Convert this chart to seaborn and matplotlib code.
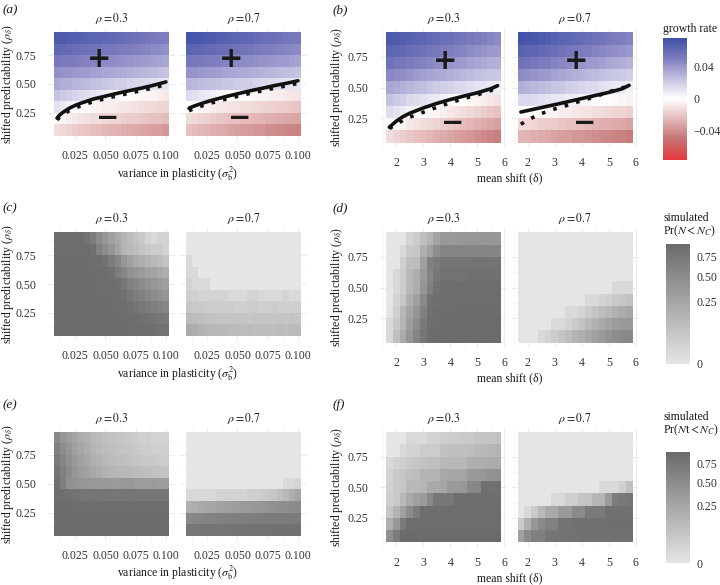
import matplotlib as mpl
import matplotlib.pyplot as plt
import numpy as np
import seaborn as sns
from matplotlib.ticker import MultipleLocator

sns.set_style("white")
plt.rcParams["font.family"] = ["Liberation Serif", "DejaVu Serif"]
plt.rcParams["mathtext.fontset"] = "stix"
plt.rcParams["text.color"] = "#1a1a1a"

# ---- grid coordinates -------------------------------------------------------
sigma_b2 = [0.010, 0.015, 0.020, 0.025, 0.030, 0.035, 0.040, 0.045, 0.050, 0.055,
            0.060, 0.065, 0.070, 0.075, 0.080, 0.085, 0.090, 0.095, 0.100]
mean_shift = [1.75, 2.00, 2.25, 2.50, 2.75, 3.00, 3.25, 3.50, 3.75, 4.00, 4.25,
              4.50, 4.75, 5.00, 5.25, 5.50, 5.75]
rho_delta = [0.9, 0.8, 0.7, 0.6, 0.5, 0.4, 0.3, 0.2, 0.1]  # grid rows, top to bottom
rho_facets = ["0.3", "0.7"]

sigma_ticks = [0.025, 0.050, 0.075, 0.100]
sigma_tick_labels = ["0.025", "0.050", "0.075", "0.100"]
shift_ticks = [2, 3, 4, 5, 6]
shift_tick_labels = ["2", "3", "4", "5", "6"]
rho_ticks = [0.25, 0.50, 0.75]
rho_tick_labels = ["0.25", "0.50", "0.75"]

# ---- (a), (b): growth rate, in units of 1e-3 --------------------------------
growth_sigma_rho03 = [
    [70, 69, 68, 67, 66, 65, 64, 63, 62, 61, 60, 59, 57, 56, 55, 54, 52, 51, 50],
    [62, 61, 60, 59, 58, 57, 56, 55, 54, 53, 52, 51, 50, 49, 48, 47, 45, 44, 43],
    [53, 52, 51, 50, 49, 48, 47, 46, 45, 44, 43, 42, 41, 40, 39, 38, 37, 36, 35],
    [43, 42, 41, 40, 39, 38, 37, 36, 35, 34, 33, 32, 31, 30, 29, 28, 27, 25, 24],
    [34, 32, 31, 29, 28, 27, 25, 24, 23, 21, 20, 19, 17, 16, 15, 14, 12, 11, 10],
    [24, 21, 19, 17, 15, 13, 11, 9, 7, 5, 3, 1, -1, -2, -3, -4, -5, -7, -8],
    [12, 8, 5, 2, 0, -2, -4, -5, -6, -7, -8, -9, -10, -11, -12, -13, -14, -15, -16],
    [-1, -4, -6, -8, -10, -11, -12, -13, -14, -15, -16, -17, -18, -19, -20, -21, -22, -23, -24],
    [-12, -14, -16, -18, -20, -21, -23, -24, -25, -26, -27, -29, -30, -31, -32, -33, -34, -35, -37],
]
growth_sigma_rho07 = [
    [73, 72, 71, 70, 69, 67, 66, 65, 64, 63, 62, 60, 59, 58, 57, 56, 54, 53, 52],
    [64, 63, 62, 61, 60, 59, 58, 57, 56, 55, 54, 52, 51, 50, 49, 48, 47, 46, 45],
    [54, 53, 52, 51, 50, 49, 48, 47, 46, 45, 44, 43, 42, 41, 40, 39, 38, 37, 36],
    [42, 41, 40, 39, 38, 37, 36, 35, 34, 33, 32, 31, 30, 29, 28, 27, 26, 25, 24],
    [29, 28, 27, 26, 25, 24, 23, 22, 21, 20, 19, 17, 16, 15, 14, 13, 12, 11, 10],
    [14, 12, 10, 8, 6, 4, 2, 1, 0, -1, -2, -3, -4, -5, -6, -7, -8, -9, -10],
    [1, -1, -3, -5, -6, -8, -9, -10, -11, -12, -13, -14, -15, -16, -17, -18, -19, -20, -21],
    [-12, -14, -16, -17, -19, -20, -21, -22, -23, -24, -25, -26, -27, -28, -29, -30, -31, -32, -33],
    [-22, -24, -26, -27, -29, -30, -31, -33, -34, -35, -36, -37, -38, -40, -41, -42, -43, -44, -45],
]
growth_shift_rho03 = [
    [70, 69, 67, 66, 64, 63, 61, 60, 58, 57, 55, 54, 52, 50, 49, 47, 45],
    [64, 62, 61, 59, 58, 56, 54, 53, 51, 50, 48, 47, 45, 43, 42, 40, 39],
    [56, 54, 53, 51, 49, 48, 46, 44, 43, 41, 40, 38, 36, 35, 33, 32, 31],
    [46, 44, 43, 41, 39, 37, 36, 34, 33, 31, 30, 28, 27, 25, 24, 23, 22],
    [35, 33, 31, 29, 27, 25, 23, 21, 19, 18, 16, 15, 13, 11, 10, 8, 7],
    [24, 21, 19, 16, 14, 12, 10, 8, 5, 3, 1, -1, -3, -5, -7, -9, -11],
    [14, 11, 8, 5, 2, 0, -2, -4, -6, -8, -10, -12, -14, -16, -18, -20, -22],
    [2, -2, -5, -8, -10, -12, -14, -16, -18, -20, -22, -24, -26, -28, -30, -32, -34],
    [-12, -15, -18, -20, -22, -24, -26, -28, -30, -32, -34, -36, -38, -40, -42, -44, -46],
]
growth_shift_rho07 = [
    [74, 72, 71, 69, 68, 66, 64, 63, 61, 60, 58, 56, 55, 53, 51, 50, 48],
    [66, 64, 63, 61, 59, 58, 56, 54, 53, 51, 50, 48, 46, 45, 43, 41, 40],
    [56, 55, 53, 51, 50, 48, 46, 45, 43, 41, 40, 38, 37, 35, 33, 32, 30],
    [45, 43, 41, 40, 38, 36, 35, 33, 31, 30, 28, 27, 25, 24, 22, 21, 19],
    [32, 30, 28, 27, 25, 23, 22, 20, 18, 17, 15, 14, 12, 11, 9, 8, 6],
    [16, 15, 14, 12, 11, 10, 9, 7, 6, 5, 3, 2, 1, -1, -2, -3, -5],
    [1, 0, -1, -2, -3, -4, -6, -7, -8, -9, -10, -12, -13, -14, -15, -16, -17],
    [-13, -14, -15, -17, -18, -19, -20, -22, -23, -24, -25, -27, -28, -29, -30, -31, -33],
    [-26, -27, -29, -30, -31, -33, -34, -35, -37, -38, -39, -40, -42, -43, -44, -45, -47],
]

# zero-growth contours: analytical (solid) and approximate (dotted)
contour_sigma_x = [0.01, 0.0125, 0.015, 0.02, 0.025, 0.03, 0.04, 0.05, 0.06, 0.07, 0.08, 0.09, 0.1]
exact_sigma_rho03 = [0.205, 0.235, 0.255, 0.29, 0.315, 0.335, 0.37, 0.395, 0.42, 0.443, 0.465, 0.49, 0.518]
approx_sigma_rho03 = [0.19, 0.215, 0.235, 0.268, 0.292, 0.312, 0.347, 0.373, 0.398, 0.421, 0.443, 0.467, 0.495]
exact_sigma_rho07 = [0.29, 0.302, 0.312, 0.33, 0.347, 0.362, 0.39, 0.415, 0.44, 0.462, 0.485, 0.505, 0.528]
approx_sigma_rho07 = [0.268, 0.28, 0.29, 0.308, 0.325, 0.34, 0.368, 0.393, 0.418, 0.44, 0.463, 0.483, 0.506]
contour_shift_x = [1.75, 2.0, 2.25, 2.5, 3.0, 3.5, 4.0, 4.5, 5.0, 5.5, 5.75]
exact_shift_rho03 = [0.176, 0.225, 0.262, 0.29, 0.333, 0.37, 0.402, 0.43, 0.457, 0.49, 0.515]
approx_shift_rho03 = [0.165, 0.2, 0.232, 0.258, 0.298, 0.338, 0.375, 0.41, 0.44, 0.475, 0.5]
exact_shift_rho07 = [0.30, 0.312, 0.324, 0.336, 0.36, 0.385, 0.41, 0.435, 0.46, 0.49, 0.518]
approx_shift_rho07 = [0.2, 0.235, 0.262, 0.287, 0.325, 0.357, 0.393, 0.425, 0.465, 0.497, 0.515]

# ---- (c), (d): simulated Pr(N < N_C), percent --------------------------------
pr_sigma_rho03 = [
    [89, 89, 89, 89, 89, 82, 68, 50, 39, 30, 22, 15, 10, 7, 5, 2, 1, 2, 2],
    [90, 90, 90, 90, 90, 89, 85, 62, 50, 39, 26, 15, 12, 10, 7, 5, 4, 4, 2],
    [91, 91, 91, 91, 91, 90, 90, 88, 82, 68, 56, 39, 30, 22, 18, 15, 12, 10, 7],
    [91, 91, 91, 91, 91, 91, 90, 90, 88, 85, 68, 56, 44, 39, 34, 30, 26, 22, 18],
    [92, 92, 92, 92, 92, 91, 91, 90, 90, 88, 85, 75, 62, 56, 50, 44, 39, 34, 30],
    [92, 92, 92, 92, 92, 92, 91, 91, 90, 90, 88, 85, 75, 68, 62, 56, 50, 44, 39],
    [92, 92, 92, 92, 92, 92, 92, 91, 91, 90, 90, 88, 85, 80, 75, 70, 65, 60, 56],
    [93, 93, 93, 93, 93, 93, 92, 92, 92, 91, 91, 90, 89, 88, 85, 82, 78, 75, 72],
    [93, 93, 93, 93, 93, 93, 93, 93, 92, 92, 92, 91, 90, 90, 89, 88, 86, 84, 82],
]
pr_sigma_rho07 = [
    [0, 0, 0, 0, 0, 0, 0, 0, 0, 0, 0, 0, 0, 0, 0, 0, 0, 0, 0],
    [0, 0, 0, 0, 0, 0, 0, 0, 0, 0, 0, 0, 0, 0, 0, 0, 0, 0, 0],
    [1, 0, 0, 0, 0, 0, 0, 0, 0, 0, 0, 0, 0, 0, 0, 0, 0, 0, 0],
    [1, 1, 0, 0, 0, 0, 0, 0, 0, 0, 0, 0, 0, 0, 0, 0, 0, 0, 0],
    [2, 1, 1, 1, 0, 0, 0, 0, 0, 0, 0, 0, 0, 0, 0, 0, 0, 0, 0],
    [3, 3, 2, 2, 2, 2, 2, 1, 1, 1, 2, 2, 1, 1, 1, 1, 2, 1, 1],
    [6, 5, 5, 4, 4, 4, 4, 4, 3, 3, 4, 4, 3, 3, 4, 3, 3, 3, 3],
    [11, 10, 9, 8, 8, 7, 7, 7, 7, 7, 6, 7, 7, 6, 6, 7, 6, 7, 6],
    [22, 18, 16, 14, 13, 12, 12, 11, 11, 10, 11, 10, 10, 10, 10, 11, 10, 11, 11],
]
pr_shift_rho03 = [
    [0, 0, 0, 2, 4, 9, 15, 26, 37, 37, 38, 38, 39, 39, 39, 38, 38],
    [0, 0, 1, 5, 6, 18, 30, 48, 57, 57, 58, 58, 58, 58, 58, 57, 57],
    [0, 0, 3, 9, 10, 30, 64, 69, 79, 79, 80, 80, 80, 82, 82, 80, 80],
    [0, 1, 4, 13, 18, 35, 58, 75, 83, 83, 83, 83, 85, 85, 85, 85, 85],
    [0, 1, 4, 13, 20, 40, 64, 82, 87, 87, 89, 89, 89, 89, 89, 89, 89],
    [0, 2, 6, 18, 30, 52, 82, 87, 89, 89, 90, 90, 90, 90, 90, 90, 90],
    [0, 3, 13, 26, 40, 64, 86, 89, 90, 90, 91, 91, 91, 91, 91, 91, 91],
    [1, 5, 15, 32, 48, 72, 89, 90, 92, 92, 92, 92, 92, 92, 92, 92, 92],
    [1, 9, 22, 40, 58, 79, 90, 92, 92, 92, 93, 93, 93, 93, 93, 93, 93],
]
pr_shift_rho07 = [
    [0, 0, 0, 0, 0, 0, 0, 0, 0, 0, 0, 0, 0, 0, 0, 0, 0],
    [0, 0, 0, 0, 0, 0, 0, 0, 0, 0, 0, 0, 0, 0, 0, 0, 0],
    [0, 0, 0, 0, 0, 0, 0, 0, 0, 0, 0, 0, 0, 0, 0, 0, 0],
    [0, 0, 0, 0, 0, 0, 0, 0, 0, 0, 0, 0, 0, 0, 0, 0, 0],
    [0, 0, 0, 0, 0, 0, 0, 0, 0, 0, 0, 0, 0, 0, 1, 1, 1],
    [0, 0, 0, 0, 0, 0, 0, 0, 0, 0, 1, 1, 2, 3, 5, 6, 8],
    [0, 0, 0, 0, 0, 0, 0, 1, 1, 2, 4, 7, 10, 13, 17, 20, 24],
    [0, 0, 0, 0, 0, 1, 1, 2, 4, 7, 12, 17, 22, 27, 32, 36, 38],
    [0, 0, 0, 1, 2, 4, 7, 10, 15, 18, 24, 30, 35, 42, 48, 52, 54],
]

# ---- (e), (f): simulated Pr(Nt < N_C), percent -------------------------------
prt_sigma_rho03 = [
    [52, 40, 33, 26, 20, 17, 13, 11, 9, 8, 7, 6, 5, 4, 3, 3, 2, 2, 2],
    [64, 50, 40, 30, 24, 20, 15, 12, 10, 9, 8, 7, 6, 5, 4, 4, 3, 3, 3],
    [72, 58, 45, 35, 28, 24, 19, 16, 13, 11, 10, 9, 8, 7, 6, 5, 5, 4, 4],
    [80, 64, 50, 40, 33, 28, 24, 20, 17, 15, 14, 13, 12, 11, 10, 9, 8, 8, 7],
    [89, 67, 45, 42, 40, 38, 37, 36, 36, 35, 35, 36, 37, 34, 33, 33, 35, 34, 33],
    [90, 88, 84, 82, 80, 79, 80, 79, 78, 78, 77, 78, 79, 77, 76, 78, 77, 76, 76],
    [92, 92, 91, 91, 91, 91, 91, 91, 91, 91, 91, 91, 90, 90, 90, 90, 90, 90, 90],
    [93, 93, 93, 93, 93, 93, 93, 93, 93, 93, 93, 93, 93, 93, 93, 93, 93, 93, 93],
    [93, 93, 93, 94, 94, 93, 94, 94, 93, 94, 94, 94, 94, 93, 94, 94, 94, 94, 94],
]
prt_sigma_rho07 = [
    [0, 0, 0, 0, 0, 0, 0, 0, 0, 0, 0, 0, 0, 0, 0, 0, 0, 0, 0],
    [0, 0, 0, 0, 0, 0, 0, 0, 0, 0, 0, 0, 0, 0, 0, 0, 0, 0, 0],
    [0, 0, 0, 0, 0, 0, 0, 0, 0, 0, 0, 0, 0, 0, 0, 0, 0, 0, 0],
    [0, 0, 0, 0, 0, 0, 0, 0, 0, 0, 0, 0, 0, 0, 0, 0, 0, 0, 0],
    [0, 0, 0, 0, 0, 0, 0, 0, 0, 0, 0, 0, 0, 0, 0, 0, 1, 1, 2],
    [1, 1, 1, 1, 1, 2, 2, 2, 2, 2, 3, 3, 4, 5, 6, 9, 13, 18, 26],
    [18, 20, 22, 24, 26, 28, 30, 31, 33, 35, 36, 38, 40, 42, 44, 46, 48, 50, 52],
    [55, 57, 58, 60, 62, 63, 64, 65, 66, 67, 67, 68, 68, 69, 69, 70, 70, 71, 71],
    [77, 78, 79, 79, 80, 80, 81, 81, 82, 82, 82, 83, 83, 83, 84, 84, 84, 85, 85],
]
prt_shift_rho03 = [
    [0, 0, 0, 1, 1, 1, 2, 2, 3, 4, 4, 5, 5, 6, 7, 7, 8],
    [0, 0, 1, 2, 2, 4, 4, 4, 8, 9, 9, 9, 10, 12, 12, 14, 15],
    [1, 2, 3, 5, 6, 8, 9, 9, 13, 13, 13, 13, 18, 18, 19, 21, 22],
    [2, 5, 6, 9, 10, 15, 15, 16, 23, 24, 25, 26, 35, 37, 39, 43, 45],
    [2, 5, 6, 13, 13, 14, 23, 23, 25, 35, 35, 37, 54, 57, 86, 86, 86],
    [3, 5, 13, 23, 30, 35, 54, 76, 76, 76, 89, 89, 89, 89, 89, 89, 89],
    [6, 15, 30, 50, 69, 89, 90, 90, 90, 90, 90, 90, 90, 90, 90, 90, 90],
    [18, 37, 72, 89, 91, 91, 91, 91, 91, 91, 91, 91, 91, 91, 91, 91, 91],
    [46, 69, 92, 93, 93, 93, 93, 93, 93, 93, 93, 93, 93, 93, 93, 93, 93],
]
prt_shift_rho07 = [
    [0, 0, 0, 0, 0, 0, 0, 0, 0, 0, 0, 0, 0, 0, 0, 0, 0],
    [0, 0, 0, 0, 0, 0, 0, 0, 0, 0, 0, 0, 0, 0, 0, 0, 0],
    [0, 0, 0, 0, 0, 0, 0, 0, 0, 0, 0, 0, 0, 0, 0, 0, 0],
    [0, 0, 0, 0, 0, 0, 0, 0, 0, 0, 0, 0, 0, 0, 0, 0, 0],
    [0, 0, 0, 0, 0, 0, 0, 0, 0, 0, 0, 0, 1, 1, 1, 3, 9],
    [0, 0, 0, 0, 0, 1, 1, 3, 3, 6, 7, 14, 16, 35, 68, 75, 79],
    [0, 1, 5, 13, 23, 23, 35, 35, 52, 52, 72, 72, 72, 84, 85, 85, 86],
    [5, 18, 37, 52, 64, 64, 80, 82, 84, 85, 86, 86, 86, 87, 87, 87, 87],
    [30, 52, 64, 64, 78, 80, 82, 83, 84, 84, 85, 85, 85, 85, 86, 86, 86],
]

# ---- colour scales ------------------------------------------------------------
GROWTH_LIM = 0.076
growth_stops = [-0.076, -0.05, -0.025, 0.0, 0.025, 0.05, 0.076]
growth_colours = ["#e4393d", "#c47474", "#e4b9b9", "#ffffff", "#c3c1e1", "#7f7dbe", "#3e50a7"]
growthCmap = mpl.colors.LinearSegmentedColormap.from_list(
    "growth",
    [((v + GROWTH_LIM) / (2 * GROWTH_LIM), c) for v, c in zip(growth_stops, growth_colours)],
)
greyCmap = mpl.colors.LinearSegmentedColormap.from_list("sim", ["#e5e5e5", "#6b6b6b"])

FIG_W, FIG_H = 720, 585
fig = plt.figure(figsize=(FIG_W / 100, FIG_H / 100), dpi=100)


def px_axes(x0, y0, x1, y1):
    return fig.add_axes((x0 / FIG_W, 1 - y1 / FIG_H, (x1 - x0) / FIG_W, (y1 - y0) / FIG_H))


def px_text(x, y, s, **kw):
    fig.text(x / FIG_W, 1 - y / FIG_H, s, **kw)


def edges(centres):
    c = np.sort(np.asarray(centres, dtype=float))
    h = np.diff(c).mean() / 2
    return list(np.r_[c - h, c[-1] + h])


def draw_tiles(ax, xs, grid, kind, pmax=None):
    gx, gy = np.meshgrid(xs, rho_delta)
    if kind == "growth":
        w = np.asarray(grid, dtype=float) / 1000
        cmap, vmin, vmax = growthCmap, -GROWTH_LIM, GROWTH_LIM
    else:
        # sqrt colour scale
        w = np.sqrt(np.asarray(grid, dtype=float) / 100)
        cmap, vmin, vmax = greyCmap, 0, np.sqrt(pmax)
    sns.histplot(
        x=gx.ravel(), y=gy.ravel(), weights=w.ravel(),
        bins=(edges(xs), edges(rho_delta)), thresh=None,
        cmap=cmap, vmin=vmin, vmax=vmax, ax=ax,
    )


def style_axes(ax, xs, ticks, labels, minor, show_y):
    xe, ye = edges(xs), edges(rho_delta)
    xpad, ypad = 0.05 * (xe[-1] - xe[0]), 0.05 * (ye[-1] - ye[0])
    ax.set_xlim(xe[0] - xpad, xe[-1] + xpad)
    ax.set_ylim(ye[0] - ypad, ye[-1] + ypad)
    ax.set_xticks(ticks, labels=labels)
    ax.set_yticks(rho_ticks, labels=rho_tick_labels if show_y else [])
    ax.xaxis.set_minor_locator(MultipleLocator(minor))
    ax.yaxis.set_minor_locator(MultipleLocator(0.125))
    ax.grid(which="major", color="#e9e9e9", lw=0.6)
    ax.grid(which="minor", color="#f1f1f1", lw=0.4)
    ax.set_axisbelow(True)
    sns.despine(ax=ax, left=True, bottom=True)
    ax.tick_params(which="major", length=4, width=1.3, color="#333333",
                   labelsize=8.5, labelcolor="#333333")
    ax.tick_params(axis="x", pad=2.5)
    ax.tick_params(axis="y", pad=4.5)
    ax.tick_params(which="minor", length=0)
    if not show_y:
        ax.tick_params(axis="y", length=0)
    ax.set_xlabel("")
    ax.set_ylabel("")


def add_colourbar(box, norm, cmap, ticks, labels):
    cax = px_axes(*box)
    cb = fig.colorbar(mpl.cm.ScalarMappable(norm=norm, cmap=cmap), cax=cax)
    cb.outline.set_visible(False)
    cb.set_ticks(ticks, labels=labels)
    cb.minorticks_off()
    cax.tick_params(axis="y", direction="in", length=5, width=0.8, color="white",
                    left=True, right=True, labelsize=8.5, labelcolor="#333333", pad=4.5)


row_tops = [26.8, 226.8, 426.5]
sigma_cols = [(48.25, 174.75), (180.25, 306.75)]
shift_cols = [(380.25, 506.75), (511.75, 638.25)]
SIGMA_H, SHIFT_H = 114.4, 121.4

rows = [
    ("(a)", "(b)", "growth", [growth_sigma_rho03, growth_sigma_rho07], [growth_shift_rho03, growth_shift_rho07]),
    ("(c)", "(d)", "prob", [pr_sigma_rho03, pr_sigma_rho07], [pr_shift_rho03, pr_shift_rho07]),
    ("(e)", "(f)", "prob", [prt_sigma_rho03, prt_sigma_rho07], [prt_shift_rho03, prt_shift_rho07]),
]
contours_sigma = [(exact_sigma_rho03, approx_sigma_rho03), (exact_sigma_rho07, approx_sigma_rho07)]
contours_shift = [(exact_shift_rho03, approx_shift_rho03), (exact_shift_rho07, approx_shift_rho07)]
letter_y = [10, 208, 405]

for r, (lab_l, lab_r, kind, sig_grids, shift_grids) in enumerate(rows):
    top = row_tops[r]
    pmax = None
    if kind == "prob":
        pmax = max(np.max(g) for g in sig_grids + shift_grids) / 100

    for side, (xs, cols, grids, h, ticks, tlabels, minor, contours, signs) in enumerate([
        (sigma_b2, sigma_cols, sig_grids, SIGMA_H, sigma_ticks, sigma_tick_labels, 0.0125,
         contours_sigma, ((0.045, 0.72), (0.052, 0.21))),
        (mean_shift, shift_cols, shift_grids, SHIFT_H, shift_ticks, shift_tick_labels, 0.5,
         contours_shift, ((3.8, 0.72), (4.1, 0.21))),
    ]):
        for f in range(2):
            ax = px_axes(cols[f][0], top, cols[f][1], top + h)
            draw_tiles(ax, xs, grids[f], kind, pmax)
            if kind == "growth":
                cx = contour_sigma_x if side == 0 else contour_shift_x
                exact, approx = contours[f]
                sns.lineplot(x=cx, y=approx, color="#111111", linewidth=2.6,
                             linestyle=(0, (1, 2.3)), sort=False, estimator=None, ax=ax)
                sns.lineplot(x=cx, y=exact, color="#111111", linewidth=2.6,
                             sort=False, estimator=None, ax=ax)
                ax.text(*signs[0], "+", ha="center", va="center", fontsize=21,
                        fontweight="bold", family="DejaVu Sans", color="#1a1a1a")
                ax.text(*signs[1], "\u2212", ha="center", va="center", fontsize=20,
                        fontweight="bold", family="DejaVu Sans", color="#1a1a1a")
            style_axes(ax, xs, ticks, tlabels, minor, show_y=(f == 0))
            ax.set_title(r"$\rho = %s$" % rho_facets[f], fontsize=8.5, pad=3.5)

        ymid = top + h / 2
        ylab_x = 8 if side == 0 else 337
        px_text(ylab_x, ymid, r"shifted predictability ($\rho_\delta$)", rotation=90,
                ha="center", va="center", fontsize=8.5)
        xmid = (cols[0][0] + cols[1][1]) / 2
        if side == 0:
            px_text(xmid, top + 146.5, r"variance in plasticity ($\sigma^2_\mathrm{b}$)",
                    ha="center", va="center", fontsize=8.5)
        else:
            px_text(xmid, top + 151.5, "mean shift (\u03b4)", ha="center", va="center",
                    fontsize=8.5)

    px_text(3, letter_y[r], lab_l, ha="left", va="center", fontsize=9.5, fontstyle="italic")
    px_text(333, letter_y[r], lab_r, ha="left", va="center", fontsize=9.5, fontstyle="italic")

    if kind == "growth":
        px_text(663, top + 2, "growth rate", ha="left", va="center", fontsize=8.5)
        add_colourbar((663, top + 11, 687, top + 133),
                      mpl.colors.Normalize(-GROWTH_LIM, GROWTH_LIM), growthCmap,
                      [0.04, 0.0, -0.04], ["0.04", "0", "\u22120.04"])
    else:
        title = r"Pr($N<N_C$)" if r == 1 else r"Pr($N\mathrm{t}<N_C$)"
        bar = (666, 244, 690, 364) if r == 1 else (666, 452, 690, 563)
        t1 = 218 if r == 1 else 417
        px_text(663, t1, "simulated", ha="left", va="center", fontsize=8.5)
        px_text(663, t1 + 13.5, title, ha="left", va="center", fontsize=8.5)
        add_colourbar(bar, mpl.colors.PowerNorm(0.5, vmin=0, vmax=pmax), greyCmap,
                      [0.0, 0.25, 0.5, 0.75], ["0", "0.25", "0.50", "0.75"])

fig.savefig("out.png", dpi=100)
